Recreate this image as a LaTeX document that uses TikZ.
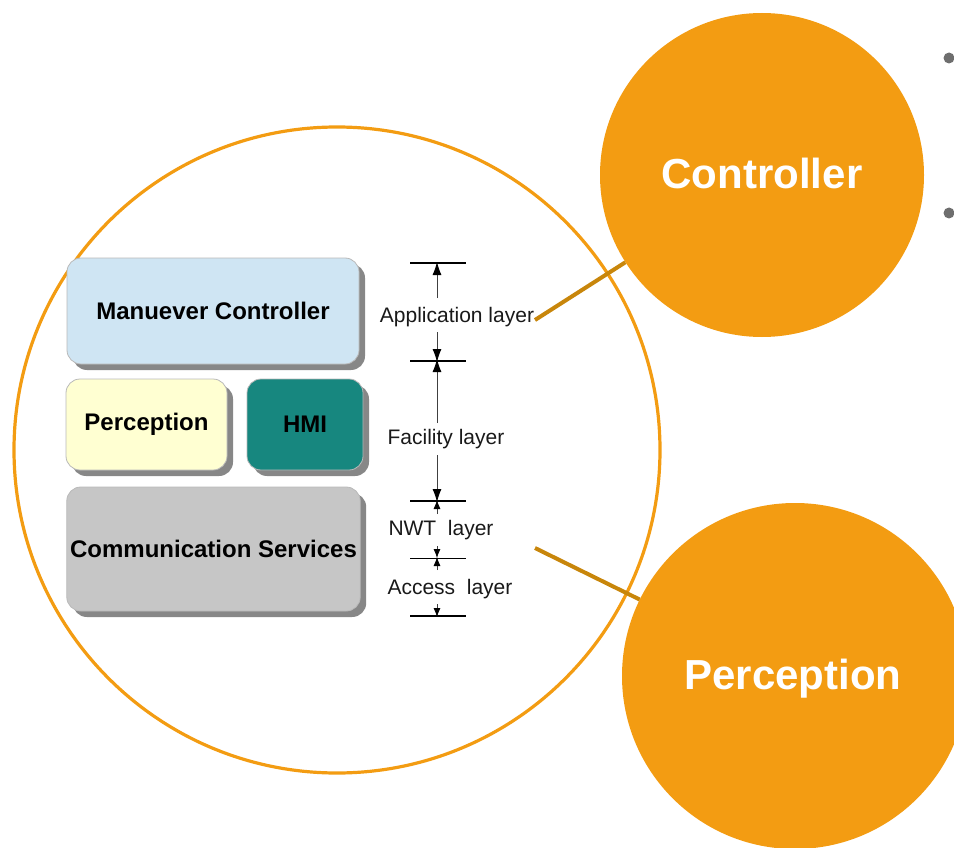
\documentclass[tikz,border=0pt]{standalone}
\usepackage{fontspec}
\setmainfont{Liberation Sans}
\usetikzlibrary{arrows.meta,shadows}
\definecolor{orng}{HTML}{F39C12}
\definecolor{dorng}{HTML}{C8860B}
\definecolor{lblue}{HTML}{CFE5F3}
\definecolor{lyel}{HTML}{FFFFD2}
\definecolor{teal2}{HTML}{17877F}
\definecolor{lgray}{HTML}{C6C6C6}
\definecolor{bulletc}{HTML}{6E6E6E}
\definecolor{shad}{HTML}{7A7A7A}
\tikzset{
  layerbox/.style={rectangle, rounded corners=14pt, draw=gray!55, line width=0.8pt,
    font=\bfseries\fontsize{24}{28}\selectfont, text=black,
    drop shadow={shadow xshift=6pt, shadow yshift=-6pt, fill=shad, opacity=0.9}},
  bigdot/.style={circle, fill=orng, text=white, font=\bfseries\fontsize{42}{50}\selectfont, inner sep=0pt},
  lbl/.style={font=\fontsize{21}{25}\selectfont, text=black!90, inner sep=1pt},
  tick/.style={line width=1.4pt, black},
  arr/.style={line width=0.8pt, black!75, -{Latex[length=13pt,width=9pt,color=black]}},
  sarr/.style={line width=0.8pt, black!75, -{Latex[length=9pt,width=7pt,color=black]}},
  conn/.style={dorng, line width=4pt},
}
\begin{document}
\begin{tikzpicture}[x=1pt,y=-1pt]
\useasboundingbox (0,0) rectangle (954,848);
\clip (0,0) rectangle (954,848);
% circles
\node[circle, draw=orng, line width=3.2pt, minimum size=646pt, inner sep=0pt] (big) at (337,450) {};
\node[bigdot, minimum size=324pt] (ctl) at (762,175) {};
\node[font=\bfseries\fontsize{42}{50}\selectfont, text=white] (ctltxt) at (762,173) {Controller};
\node[bigdot, minimum size=346pt] (per) at (795,676) {};
\node[font=\bfseries\fontsize{42}{50}\selectfont, text=white] (pertxt) at (793,679) {Perception};
% bullets
\fill[bulletc] (949,58) circle [radius=5.5];
\fill[bulletc] (949,213) circle [radius=5.5];
% boxes
\node[layerbox, fill=lblue, minimum width=292pt, minimum height=106pt] (mc) at (213,311) {Manuever Controller};
\node[layerbox, fill=lyel, minimum width=161pt, minimum height=91pt] (pc) at (146.5,424.5) {\raisebox{-2pt}{Perception}};
\node[layerbox, fill=teal2, minimum width=116pt, minimum height=91pt] (hmi) at (305,424.5) {HMI};
\node[layerbox, fill=lgray, minimum width=293pt, minimum height=124pt] (cs) at (213.5,549) {Communication Services};
% layer boundaries
\coordinate (b1) at (437,263);
\coordinate (b2) at (437,361);
\coordinate (b3) at (437,501);
\coordinate (b4) at (437,558);
\coordinate (b5) at (437,616);
\foreach \b in {b1,b2,b3,b5} \draw[tick] ([xshift=-27pt]\b) -- ([xshift=29pt]\b);
\draw[line width=0.8pt, black] ([xshift=-27pt]b4) -- ([xshift=29pt]b4);
% labels
\node[lbl] (appl) at (457,317) {Application layer};
\node[lbl] (facl) at (446,439) {Facility layer};
\node[lbl] (nwtl) at (441,530) {NWT\ \ layer};
\node[lbl] (accl) at (450,589) {Access\ \ layer};
% arrow starts
\coordinate (a1) at (437,298);
\coordinate (a2) at (437,332);
\coordinate (a3) at (437,423);
\coordinate (a4) at (437,455);
\coordinate (a5) at (437,514);
\coordinate (a6) at (437,546);
\coordinate (a7) at (437,570);
\coordinate (a8) at (437,604);
\draw[arr] (a1) -- ([yshift=1pt]b1);
\draw[arr] (a2) -- ([yshift=-1pt]b2);
\draw[arr] (a3) -- ([yshift=2pt]b2);
\draw[arr] (a4) -- ([yshift=-1pt]b3);
\draw[sarr] (a5) -- ([yshift=1pt]b3);
\draw[sarr] (a6) -- (b4);
\draw[sarr] (a7) -- ([yshift=1pt]b4);
\draw[sarr] (a8) -- ([yshift=-1pt]b5);
% connectors
\coordinate (s1) at (535,320);
\coordinate (s2) at (535,548);
\draw[conn] (s1) -- (ctl);
\draw[conn] (s2) -- (per);
\end{tikzpicture}
\end{document}
